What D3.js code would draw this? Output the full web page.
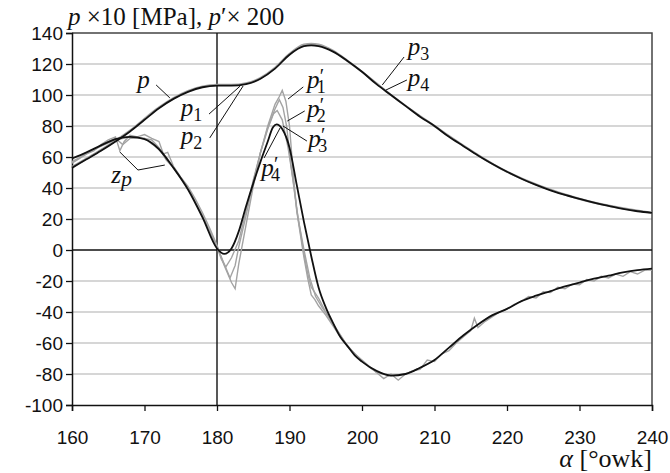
<!DOCTYPE html>
<html>
<head>
<meta charset="utf-8">
<script src="https://cdn.jsdelivr.net/npm/d3@7"></script>
<style>
  body { margin: 0; background: #fff; }
  .tick text { font-family: "Liberation Sans", Arial, sans-serif; font-size: 19px; fill: #111; }
  .lbl { font-family: "Liberation Serif", "Times New Roman", serif; font-style: italic; fill: #111; }
</style>
</head>
<body>
<div id="chart"></div>
<script>
// axis ticks
const xTicks = [160, 170, 180, 190, 200, 210, 220, 230, 240]
const yTicks = [-100, -80, -60, -40, -20, 0, 20, 40, 60, 80, 100, 120, 140]

// pressure p (x10 MPa), black smoothed curve  [alpha, value]
const pMain = [[160,53],[162,58.5],[164,64],[166,70],[168,76.5],[170,84],[172,91.5],[174,97.5],[176,102],[178,105],[180,106],[182,106],[184,107],[186,110.5],[188,117],[190,126],[192,131.5],[193,132],[194,131.5],[196,128],[198,122],[200,115],[202,107],[204,100],[206,93],[208,86],[210,80],[212,73],[214,67],[216,61],[218,55.5],[220,50.5],[222,46],[224,42],[226,38.5],[228,35.5],[230,33],[232,30.5],[234,28.5],[236,26.5],[238,25],[240,24]]

// raw pressure (gray, mostly hidden)
const pRaw = [[160,53.5],[164,64.5],[168,77],[172,92],[176,102.5],[178,105.5],[180,106.5],[182,106.5],[184,107.5],[186,111],[188,117.5],[190,126.5],[192,132.5],[193,133],[194,132.5],[196,128.5],[198,122],[200,115],[204,100],[210,80],[220,50.5],[230,33],[240,24]]

// derivative p' (x200), black smoothed curve p4'
const dMain = [[160,59],[162,63],[164,67.5],[166,71.5],[168,73],[170,71.5],[172,65],[174,53],[176,39],[178,21],[180,1],[181,-2.5],[182,1],[183,12],[184,28],[185,43],[186,57],[187,70],[187.7,79],[188.2,81],[189,78],[190,66],[191,42],[192,18],[193,-4],[194,-24],[195,-37],[196,-47],[197,-56],[198,-62],[199,-68],[200,-72],[202,-78],[204,-81],[206,-80],[208,-76],[210,-71],[212,-63],[214,-55],[216,-48],[218,-42],[220,-38],[222,-33],[224,-29.5],[226,-26.5],[228,-23.5],[230,-21],[232,-18.5],[234,-16.5],[236,-14.5],[238,-13],[240,-12]]

// raw derivatives p1', p2', p3' (gray, noisy)
const d1 = [[160,56],[161,59],[162,62],[163,64],[164,68],[165,71],[166,73],[166.6,64],[167.2,70],[168,74],[169,73],[170,74.5],[171,72],[172,70],[172.6,62],[173.2,63],[174,54],[175,47],[176,41],[177,33],[178,24],[179,14],[180,3],[181,-10],[182,-21],[182.5,-25],[183,-9],[184,16],[185,41],[186,63],[187,80],[188,94],[188.6,99],[189,103],[189.5,96],[190,80],[190.5,50],[191,25],[192,-5],[192.5,-18],[193,-29],[193.5,-32],[194,-36],[195,-42],[196,-49],[197,-56],[198,-62],[199,-67],[200,-71],[201,-75],[202,-79],[203,-83],[204,-80],[205,-84],[206,-80],[207,-78],[208,-77],[209,-71],[210,-72],[211,-67],[212,-65],[213,-60],[214,-56],[215,-52],[215.5,-44],[216,-50],[217,-46],[218,-43],[219,-40],[220,-38],[221,-35],[222,-33],[223,-30],[224,-31],[225,-27],[226,-27.5],[227,-24],[228,-25],[229,-22],[230,-22.5],[231,-19],[232,-20],[233,-17],[234,-18],[235,-15.5],[236,-17],[237,-14],[238,-15.5],[239,-13],[240,-13]]
const d2 = [[160,57],[162,62],[164,67],[165,70],[166,72],[167,68],[168,72],[170,72],[171,71],[172,66],[173,58],[174,53],[176,40],[178,22],[179,12],[180,2],[181,-9],[181.8,-18],[182.5,-10],[183,2],[184,22],[185,44],[186,63],[187,79],[188,91],[188.6,97],[189.1,92],[189.6,80],[190.2,55],[191,26],[191.9,0],[192.5,-15],[193,-24],[194,-31],[195,-40],[196,-48],[198,-62],[200,-72],[202,-79],[204,-81],[206,-80],[208,-76],[210,-71]]
const d3v = [[164,67],[166,71],[168,73],[170,72],[172,65],[174,53],[176,40],[178,22],[180,2],[180.6,-6],[181.2,-11],[182,-5],[183,6],[184,25],[185,45],[186,63],[187,78],[187.8,88],[188.3,90],[189,84],[189.8,66],[190.5,45],[191.2,20],[192,0],[192.8,-18],[193.6,-30],[194.5,-37],[195.5,-44],[196.5,-51],[198,-62],[200,-72]]

// labels: text anchor [alpha, value], leader from -> to
const labels = [
  { name: 'p', sub: '', prime: false, at: [169.0, 104.5], lead: [[171.6, 106.5], [173.5, 98.1]] },
  { name: 'p', sub: '1', prime: false, at: [175.0, 86.5], lead: [[178.9, 87.7], [183.2, 105.8]] },
  { name: 'p', sub: '2', prime: false, at: [175.0, 68.4], lead: [[179.0, 72.3], [183.6, 105.8]] },
  { name: 'p', sub: '1', prime: true, at: [192.4, 104.5], lead: [[191.9, 105.2], [189.8, 97.4]] },
  { name: 'p', sub: '2', prime: true, at: [192.4, 85.8], lead: [[192.1, 89.7], [189.7, 83.2]] },
  { name: 'p', sub: '3', prime: true, at: [192.6, 66.5], lead: [[192.4, 70.3], [189.1, 80.0]] },
  { name: 'p', sub: '4', prime: true, at: [186.1, 47.7], lead: [[186.5, 59.4], [188.7, 78.7]] },
  { name: 'p', sub: '3', prime: false, at: [206.3, 125.8], lead: [[205.8, 124.5], [202.8, 106.5]] },
  { name: 'p', sub: '4', prime: false, at: [206.3, 105.8], lead: [[206.2, 109.7], [203.3, 103.2]] },
  { name: 'z', sub: 'p', prime: false, at: [165.4, 43.2], lead: [[166.6, 63.2], [169.1, 51.6], [172.8, 54.8]] }
]

const W = 670, H = 473
const margin = { top: 33, right: 18, bottom: 68, left: 72 },
  width = W - margin.left - margin.right,
  height = H - margin.top - margin.bottom

const x = d3.scaleLinear().domain([160, 240]).range([0, width])
const y = d3.scaleLinear().domain([-100, 140]).range([height, 0])

const svg = d3.select('#chart')
  .append('svg')
  .attr('width', W)
  .attr('height', H)

const g = svg.append('g')
  .attr('transform', `translate(${margin.left}, ${margin.top})`)

// grid
g.selectAll('.grid')
  .data(yTicks.filter(v => v > -100 && v < 140 && v !== 0))
  .enter()
  .append('line')
  .attr('x1', 0).attr('x2', width)
  .attr('y1', d => y(d)).attr('y2', d => y(d))
  .attr('stroke', '#c8c8c8')
  .attr('stroke-width', 1.6)

// frame top/right
g.append('path')
  .attr('d', `M0,0H${width}V${height}`)
  .attr('fill', 'none')
  .attr('stroke', '#444')
  .attr('stroke-width', 1.5)

// zero line and 180 line
g.append('line')
  .attr('x1', 0).attr('x2', width)
  .attr('y1', y(0)).attr('y2', y(0))
  .attr('stroke', '#111').attr('stroke-width', 1.4)
g.append('line')
  .attr('x1', x(180)).attr('x2', x(180))
  .attr('y1', 0).attr('y2', height)
  .attr('stroke', '#111').attr('stroke-width', 1.4)

// axes
const yAxis = g.append('g')
  .call(d3.axisLeft(y).tickValues(yTicks).tickFormat(d => String(d)).tickSize(6).tickPadding(3))
const xAxis = g.append('g')
  .attr('transform', `translate(0, ${height})`)
  .call(d3.axisBottom(x).tickValues(xTicks).tickFormat(d => String(d)).tickSize(6).tickPadding(20))
;[yAxis, xAxis].forEach(a => {
  a.select('.domain').attr('stroke', '#111').attr('stroke-width', 1.5)
  a.selectAll('.tick line').attr('stroke', '#111').attr('stroke-width', 1.3)
})

const line = d3.line()
  .x(d => x(d[0]))
  .y(d => y(d[1]))
  .curve(d3.curveMonotoneX)
const rawLine = d3.line()
  .x(d => x(d[0]))
  .y(d => y(d[1]))

// gray raw curves
;[d3v, d2, d1].forEach(s => {
  g.append('path')
    .datum(s)
    .attr('d', rawLine)
    .attr('fill', 'none')
    .attr('stroke', '#a3a3a3')
    .attr('stroke-width', 1.4)
})
g.append('path')
  .datum(pRaw)
  .attr('d', line)
  .attr('fill', 'none')
  .attr('stroke', '#a3a3a3')
  .attr('stroke-width', 2.2)

// black curves
;[dMain, pMain].forEach(s => {
  g.append('path')
    .datum(s)
    .attr('d', line)
    .attr('fill', 'none')
    .attr('stroke', '#111')
    .attr('stroke-width', 1.8)
})

// leaders + labels (one text element per label, prime and index stacked)
const leader = d3.line().x(d => x(d[0])).y(d => y(d[1]))
labels.forEach(l => {
  g.append('path')
    .attr('d', leader(l.lead))
    .attr('fill', 'none')
    .attr('stroke', '#111')
    .attr('stroke-width', 1)

  const t = g.append('text')
    .attr('class', 'lbl')
    .attr('x', x(l.at[0])).attr('y', y(l.at[1]))
    .style('font-size', '25px')
  t.append('tspan').text(l.name)
  let up = 0
  if (l.prime) {
    t.append('tspan')
      .attr('dx', -1).attr('dy', -5)
      .style('font-size', '20px')
      .text('′')
    up = 5
  }
  if (l.sub) {
    const isZ = l.name === 'z'
    t.append('tspan')
      .attr('dx', l.prime ? -6 : 0)
      .attr('dy', up + (isZ ? 3 : 5))
      .style('font-size', isZ ? '22px' : '18px')
      .style('font-style', isZ ? 'italic' : 'normal')
      .text(l.sub)
  }
})

// y title
const yt = svg.append('text')
  .attr('class', 'lbl')
  .attr('x', 68).attr('y', 25)
  .style('font-size', '25px')
  .style('font-style', 'normal')
yt.append('tspan').style('font-style', 'italic').text('p')
yt.append('tspan').text(' ×10 [MPa], ')
yt.append('tspan').style('font-style', 'italic').text('p')
yt.append('tspan').text('′× 200')

// x title
const xt = svg.append('text')
  .attr('class', 'lbl')
  .attr('x', margin.left + width).attr('y', 467)
  .attr('text-anchor', 'end')
  .style('font-size', '26px')
  .style('font-style', 'normal')
xt.append('tspan').style('font-style', 'italic').text('α')
xt.append('tspan').text(' [°owk]')
</script>
</body>
</html>
